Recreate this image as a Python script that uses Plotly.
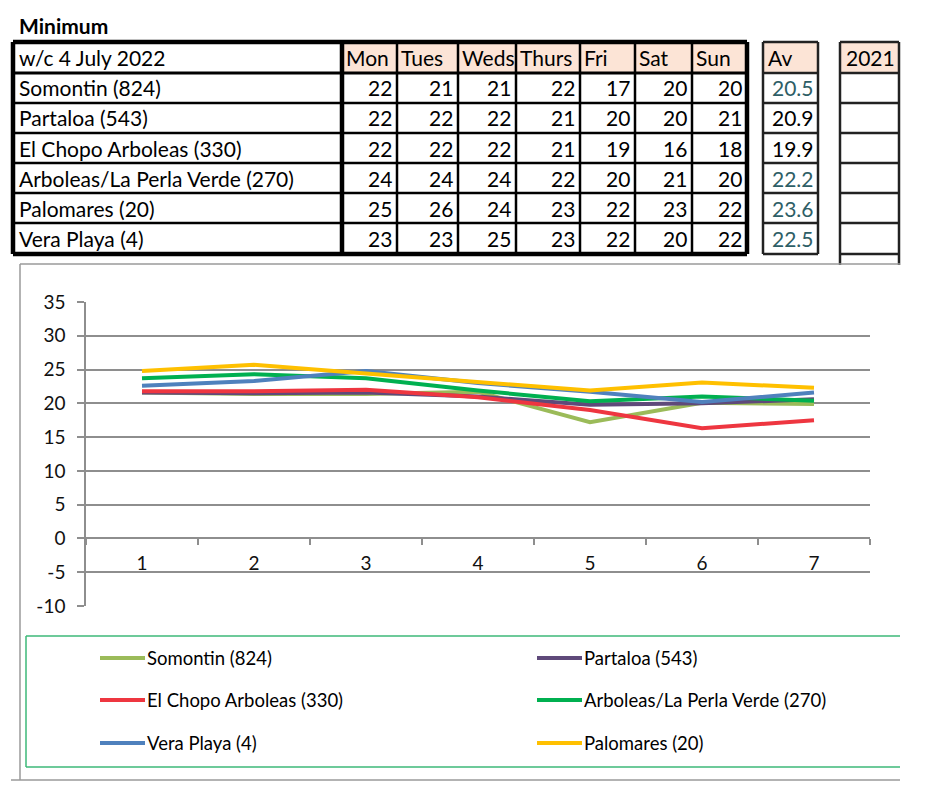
import plotly.graph_objects as go

# ---------------- data ----------------
title_text = "Minimum"
week_label = "w/c 4 July 2022"
day_headers = ["Mon", "Tues", "Weds", "Thurs", "Fri", "Sat", "Sun"]
avg_header = "Av"
year_header = "2021"

table_stations = ["Somontin (824)", "Partaloa (543)", "El Chopo Arboleas (330)",
                  "Arboleas/La Perla Verde (270)", "Palomares (20)", "Vera Playa (4)"]
table_somontin = [22, 21, 21, 22, 17, 20, 20]
table_partaloa = [22, 22, 22, 21, 20, 20, 21]
table_elchopo = [22, 22, 22, 21, 19, 16, 18]
table_arboleas = [24, 24, 24, 22, 20, 21, 20]
table_palomares = [25, 26, 24, 23, 22, 23, 22]
table_vera = [23, 23, 25, 23, 22, 20, 22]
table_averages = ["20.5", "20.9", "19.9", "22.2", "23.6", "22.5"]

chart_x = [1, 2, 3, 4, 5, 6, 7]
series_names = ["Somontin (824)", "Partaloa (543)", "El Chopo Arboleas (330)",
                "Arboleas/La Perla Verde (270)", "Vera Playa (4)", "Palomares (20)"]
somontin = [21.6, 21.4, 21.4, 21.7, 17.2, 20.1, 19.9]
partaloa = [21.6, 21.5, 21.6, 21.0, 19.8, 20.0, 20.6]
elchopo = [21.8, 21.8, 22.0, 20.9, 19.0, 16.3, 17.5]
arboleas = [23.7, 24.3, 23.7, 21.9, 20.3, 21.0, 20.4]
vera = [22.6, 23.3, 24.8, 23.0, 21.7, 20.2, 21.6]
palomares = [24.8, 25.7, 24.4, 23.2, 21.9, 23.1, 22.3]
y_tickvals = [-10, -5, 0, 5, 10, 15, 20, 25, 30, 35]
y_ticktext = ["-10", "-5", "0", "5", "10", "15", "20", "25", "30", "35"]

# ---------------- styling ----------------
W, H = 939, 800
FONT = "Lato, 'Open Sans', sans-serif"
colors = ["#9BBB59", "#5F497A", "#EE3640", "#00B050", "#4F81BD", "#FFC000"]
series_values = [somontin, partaloa, elchopo, arboleas, vera, palomares]
table_values = [table_somontin, table_partaloa, table_elchopo,
                table_arboleas, table_palomares, table_vera]
avg_teal = [True, False, False, True, True, True]
PEACH = "#FCE4D6"
GRID = "#8E8E8E"


def px(x):
    return x / W


def py(y):
    return 1 - y / H


fig = go.Figure()
for name, vals, col in zip(series_names, series_values, colors):
    fig.add_trace(go.Scatter(x=[str(v) for v in chart_x], y=vals, mode="lines",
                             name=name, line=dict(color=col, width=4),
                             showlegend=False, hoverinfo="skip"))

shapes = []
annotations = []

# title
annotations.append(dict(x=px(17), y=py(25), xref="paper", yref="paper", text="<b>%s</b>" % title_text,
                        showarrow=False, xanchor="left", yanchor="middle",
                        font=dict(family=FONT, size=21, color="#000")))

# table geometry
col_edges = [13, 342, 397, 458, 516, 580, 635, 692, 747]
row_edges = [42, 73, 103, 133, 163, 193, 223, 254]
av_edges = [763, 818]
yr_edges = [840, 899]

# header fills
for i in range(1, 8):
    shapes.append(dict(type="rect", xref="paper", yref="paper", x0=px(col_edges[i]), x1=px(col_edges[i + 1]),
                       y0=py(row_edges[0]), y1=py(row_edges[1]), fillcolor=PEACH, line=dict(width=0), layer="below"))
for e in (av_edges, yr_edges):
    shapes.append(dict(type="rect", xref="paper", yref="paper", x0=px(e[0]), x1=px(e[1]),
                       y0=py(row_edges[0]), y1=py(row_edges[1]), fillcolor=PEACH, line=dict(width=0), layer="below"))


def hline(x0, x1, y, w, c="#000"):
    shapes.append(dict(type="line", xref="paper", yref="paper", x0=px(x0), x1=px(x1), y0=py(y), y1=py(y),
                       line=dict(color=c, width=w)))


def vline(x, y0, y1, w, c="#000"):
    shapes.append(dict(type="line", xref="paper", yref="paper", x0=px(x), x1=px(x), y0=py(y0), y1=py(y1),
                       line=dict(color=c, width=w)))


# main table lines
for j, y in enumerate(row_edges):
    w = 4.5 if j in (0, len(row_edges) - 1) else (3 if j == 1 else 2.5)
    hline(col_edges[0], col_edges[-1], y, w)
for i, x in enumerate(col_edges):
    w = 4.5 if i in (0, 1, len(col_edges) - 1) else 2.5
    vline(x, row_edges[0], row_edges[-1], w)

# Av and 2021 boxes
for j, y in enumerate(row_edges):
    hline(av_edges[0], av_edges[1], y, 2.5, "#222")
    hline(yr_edges[0], yr_edges[1], y, 2.5, "#222")
for x in av_edges:
    vline(x, row_edges[0], row_edges[-1], 2.5, "#222")
for x in yr_edges:
    vline(x, row_edges[0], 265, 2.5, "#222")

TS = 21
# header texts
annotations.append(dict(x=px(17), y=py((row_edges[0] + row_edges[1]) / 2), xref="paper", yref="paper",
                        text=week_label, showarrow=False, xanchor="left", yanchor="middle",
                        font=dict(family=FONT, size=TS, color="#000")))
for i, d in enumerate(day_headers):
    annotations.append(dict(x=px(col_edges[i + 1] + 2), y=py((row_edges[0] + row_edges[1]) / 2), xref="paper",
                            yref="paper", text=d, showarrow=False, xanchor="left", yanchor="middle",
                            font=dict(family=FONT, size=TS, color="#000")))
annotations.append(dict(x=px(av_edges[0] + 3), y=py((row_edges[0] + row_edges[1]) / 2), xref="paper",
                        yref="paper", text=avg_header, showarrow=False, xanchor="left", yanchor="middle",
                        font=dict(family=FONT, size=TS, color="#000")))
annotations.append(dict(x=px(yr_edges[1] - 2), y=py((row_edges[0] + row_edges[1]) / 2), xref="paper",
                        yref="paper", text=year_header, showarrow=False, xanchor="right", yanchor="middle",
                        font=dict(family=FONT, size=TS, color="#000")))

# rows
for r, (st, vals, av, teal) in enumerate(zip(table_stations, table_values, table_averages, avg_teal)):
    yc = py((row_edges[r + 1] + row_edges[r + 2]) / 2)
    annotations.append(dict(x=px(17), y=yc, xref="paper", yref="paper", text=st, showarrow=False,
                            xanchor="left", yanchor="middle", font=dict(family=FONT, size=TS, color="#000")))
    for i, v in enumerate(vals):
        annotations.append(dict(x=px(col_edges[i + 2] - 3), y=yc, xref="paper", yref="paper", text=str(v),
                                showarrow=False, xanchor="right", yanchor="middle",
                                font=dict(family=FONT, size=TS, color="#000")))
    annotations.append(dict(x=px(av_edges[1] - 2), y=yc, xref="paper", yref="paper", text=av,
                            showarrow=False, xanchor="right", yanchor="middle",
                            font=dict(family=FONT, size=TS, color="#2E5E66" if teal else "#000")))

# chart frame (gray)
hline(20, 900, 264, 1.5, "#9A9A9A")
vline(20, 264, 780, 1.5, "#9A9A9A")
hline(11, 900, 780, 1.5, "#9A9A9A")

# legend box (green)
LG = "#3CB878"
hline(26, 900, 636, 1.5, LG)
hline(26, 900, 767, 1.5, LG)
vline(26, 636, 767, 1.5, LG)

# legend entries (2 columns x 3 rows)
leg_cols = [100, 537]
leg_rows = [658, 700, 743]
for k, (name, col) in enumerate(zip(series_names, colors)):
    cx = leg_cols[k % 2]
    cy = leg_rows[k // 2]
    hline(cx, cx + 45, cy, 4, col)
    annotations.append(dict(x=px(cx + 45), y=py(cy), xref="paper", yref="paper", text=name,
                            showarrow=False, xanchor="left", yanchor="middle",
                            font=dict(family=FONT, size=18.5, color="#000")))

dom_y = [py(606), py(302)]
fig.update_layout(
    width=W, height=H, margin=dict(l=0, r=0, t=0, b=0, pad=0, autoexpand=False),
    paper_bgcolor="white", plot_bgcolor="white",
    showlegend=False,
    shapes=shapes, annotations=annotations,
    xaxis=dict(type="category", domain=[px(86), px(870)], range=[-0.5, 6.5],
               anchor="free", position=py(538), automargin=False,
               showline=True, linecolor=GRID, linewidth=1.5,
               ticks="outside", tickson="boundaries", ticklen=6, tickcolor=GRID, tickwidth=1.5,
               ticklabelstandoff=8,
               showgrid=False, zeroline=False,
               tickfont=dict(family=FONT, size=19, color="#111")),
    yaxis=dict(domain=dom_y, range=[y_tickvals[0], y_tickvals[-1]], tickmode="array",
               tickvals=y_tickvals, ticktext=y_ticktext, automargin=False,
               showgrid=True, gridcolor=GRID, gridwidth=1.5,
               zeroline=False, showline=True, linecolor=GRID, linewidth=1.5,
               ticks="outside", ticklen=7, tickcolor=GRID, tickwidth=1.5,
               ticklabelstandoff=8,
               tickfont=dict(family=FONT, size=19, color="#111")),
)

fig.write_html("out.html", config={"displayModeBar": False},
               post_script="document.body.style.margin='0';document.body.style.overflow='hidden';")
